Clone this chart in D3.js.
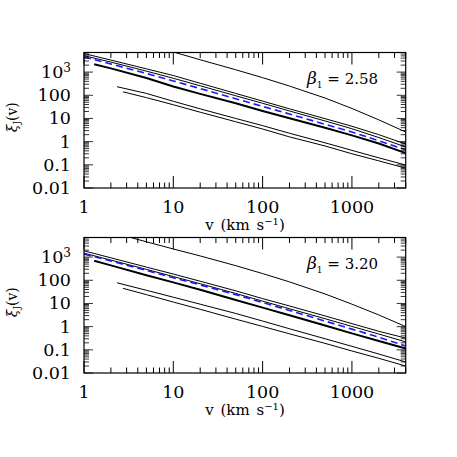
<!DOCTYPE html>
<html><head><meta charset="utf-8">
<script src="https://cdn.jsdelivr.net/npm/d3@7"></script>
<style>body{margin:0;background:#fff}svg{display:block}</style>
</head><body>
<script>
// ---------- data ----------
const xTickValues = [1, 10, 100, 1000];
const xTickLabels = ["1", "10", "100", "1000"];
const yTickValues = [0.01, 0.1, 1, 10, 100, 1000];
const yTickLabels = ["0.01", "0.1", "1", "10", "100", "10^3"];
const betaLabels = ["2.58", "3.20"];

const vGrid = [1, 2, 5, 10, 20, 50, 100, 200, 500, 1000, 2000, 4000];

// panel 1 (beta1 = 2.58)
const p1Curve  = { v: [10, 20, 50, 100, 200, 500, 1000, 2000, 4000], y: [7400, 3400, 1260, 575, 250, 76, 27, 8.7, 2.6] };
const p1Thin1  = { v: vGrid, y: [6300, 3300, 1380, 710, 330, 120, 56, 26, 9.8, 4.6, 2.0, 0.79] };
const p1Thin2  = { v: vGrid, y: [5100, 2700, 1100, 540, 257, 95, 45, 21, 7.8, 3.6, 1.5, 0.59] };
const p1Blue   = { v: vGrid, y: [4470, 2240, 870, 417, 195, 71, 33, 15.5, 5.6, 2.6, 1.1, 0.44] };
const p1Thick  = { v: [1.3, 2, 5, 10, 20, 50, 100, 200, 500, 1000, 2000, 4000], y: [2190, 1450, 560, 240, 115, 45, 21, 10.2, 4.0, 1.86, 0.83, 0.32] };
const p1Low1   = { v: [2.34, 5, 10, 20, 50, 100, 200, 500, 1000, 2000, 4000], y: [234, 120, 55, 26, 10, 4.9, 2.3, 0.89, 0.42, 0.20, 0.098] };
const p1Low2   = { v: [2.73, 5, 10, 20, 50, 100, 200, 500, 1000, 2000, 4000], y: [141, 79, 39, 18.6, 7.2, 3.5, 1.6, 0.65, 0.30, 0.148, 0.072] };

// panel 2 (beta1 = 3.20)
const p2Curve  = { v: [3, 5, 10, 20, 50, 100, 200, 500, 1000, 2000, 4000], y: [7800, 4570, 2240, 1120, 427, 195, 85, 25.7, 9.3, 3.2, 1.0] };
const p2Thin1  = { v: vGrid, y: [1860, 930, 370, 186, 91, 35, 16.2, 7.8, 2.9, 1.35, 0.63, 0.32] };
const p2Thin2  = { v: vGrid, y: [1480, 740, 295, 145, 71, 27, 12.6, 5.9, 2.2, 1.02, 0.48, 0.22] };
const p2Blue   = { v: vGrid, y: [1350, 680, 265, 129, 63, 24, 11, 5.0, 1.74, 0.78, 0.35, 0.145] };
const p2Thick  = { v: [1.3, 2, 5, 10, 20, 50, 100, 200, 500, 1000, 2000, 4000], y: [690, 440, 166, 81, 39, 14.1, 6.6, 3.1, 1.12, 0.51, 0.24, 0.115] };
const p2Low1   = { v: [2.34, 5, 10, 20, 50, 100, 200, 500, 1000, 2000, 4000], y: [78, 37, 18.6, 9.3, 3.7, 1.74, 0.81, 0.30, 0.141, 0.066, 0.030] };
const p2Low2   = { v: [2.73, 5, 10, 20, 50, 100, 200, 500, 1000, 2000, 4000], y: [45, 24, 11.5, 5.6, 2.1, 1.02, 0.49, 0.19, 0.089, 0.043, 0.020] };

const panels = [
  { top: 52.5, bottom: 188, beta: betaLabels[0],
    series: [
      { d: p1Curve, style: "thin" }, { d: p1Thin1, style: "thin" }, { d: p1Thin2, style: "thin" },
      { d: p1Blue, style: "blue" }, { d: p1Thick, style: "thick" },
      { d: p1Low1, style: "thin" }, { d: p1Low2, style: "thin" } ] },
  { top: 237.5, bottom: 373, beta: betaLabels[1],
    series: [
      { d: p2Curve, style: "thin" }, { d: p2Thin1, style: "thin" }, { d: p2Thin2, style: "thin" },
      { d: p2Blue, style: "blue" }, { d: p2Thick, style: "thick" },
      { d: p2Low1, style: "thin" }, { d: p2Low2, style: "thin" } ] }
];

// ---------- drawing ----------
const W = 457, H = 457;
const L = 84, R = 405.7;
const svg = d3.select("body").append("svg").attr("width", W).attr("height", H);
const font = "'DejaVu Serif', serif";

const x = d3.scaleLog().domain([1, 4000]).range([L, R]);

panels.forEach((p, pi) => {
  const y = d3.scaleLog().domain([0.01, 7000]).range([p.bottom, p.top]);
  const g = svg.append("g");
  const clipId = "clip" + pi;
  svg.append("clipPath").attr("id", clipId).append("rect")
    .attr("x", L).attr("y", p.top).attr("width", R - L).attr("height", p.bottom - p.top);

  // series
  const line = d3.line().x(d => x(d[0])).y(d => y(d[1]));
  const lg = g.append("g").attr("clip-path", `url(#${clipId})`);
  p.series.forEach(s => {
    const pts = s.d.v.map((v, i) => [v, s.d.y[i]]);
    const path = lg.append("path").attr("d", line(pts)).attr("fill", "none");
    if (s.style === "thin") path.attr("stroke", "#000").attr("stroke-width", 1);
    else if (s.style === "thick") path.attr("stroke", "#000").attr("stroke-width", 2);
    else path.attr("stroke", "#1a1aff").attr("stroke-width", 1.6).attr("stroke-dasharray", "7,4");
  });

  // frame
  g.append("rect").attr("x", L).attr("y", p.top).attr("width", R - L).attr("height", p.bottom - p.top)
    .attr("fill", "none").attr("stroke", "#000").attr("stroke-width", 1.2);

  // x ticks (top and bottom, inward)
  const isMajor = v => Math.abs(Math.log10(v) - Math.round(Math.log10(v))) < 1e-9;
  x.ticks().forEach(v => {
    const len = isMajor(v) ? 12 : 5.5;
    const xx = x(v);
    g.append("line").attr("x1", xx).attr("x2", xx).attr("y1", p.bottom).attr("y2", p.bottom - len)
      .attr("stroke", "#000").attr("stroke-width", 1);
    g.append("line").attr("x1", xx).attr("x2", xx).attr("y1", p.top).attr("y2", p.top + len)
      .attr("stroke", "#000").attr("stroke-width", 1);
  });
  // y ticks (left and right, inward)
  y.ticks().forEach(v => {
    const len = isMajor(v) ? 9 : 5;
    const yy = y(v);
    g.append("line").attr("x1", L).attr("x2", L + len).attr("y1", yy).attr("y2", yy)
      .attr("stroke", "#000").attr("stroke-width", 0.8);
    g.append("line").attr("x1", R).attr("x2", R - len).attr("y1", yy).attr("y2", yy)
      .attr("stroke", "#000").attr("stroke-width", 0.8);
  });

  // x tick labels
  xTickValues.forEach((v, i) => {
    g.append("text").attr("x", x(v)).attr("y", p.bottom + 25).attr("text-anchor", "middle")
      .attr("font-family", font).attr("font-size", 17.5).text(xTickLabels[i]);
  });
  // y tick labels
  yTickValues.forEach((v, i) => {
    const t = g.append("text").attr("x", 71).attr("y", y(v) + 6).attr("text-anchor", "end")
      .attr("font-family", font).attr("font-size", 17.5);
    const lab = yTickLabels[i];
    if (lab.includes("^")) {
      const [b, e] = lab.split("^");
      t.append("tspan").text(b);
      t.append("tspan").attr("dy", -6).attr("font-size", 12).text(e);
    } else t.text(lab);
  });

  // x title
  const xt = g.append("text").attr("x", 245).attr("y", p.bottom + 42).attr("text-anchor", "middle")
    .attr("font-family", font).attr("font-size", 15).attr("word-spacing", 2);
  xt.append("tspan").text("v (km s");
  xt.append("tspan").attr("dy", -5).attr("font-size", 10).text("−1");
  xt.append("tspan").attr("dy", 5).text(")");

  // y title
  const cy = (p.top + p.bottom) / 2 - 3;
  const yt = g.append("text").attr("transform", `translate(17,${cy}) rotate(-90)`)
    .attr("text-anchor", "middle").attr("font-family", font).attr("font-size", 14);
  yt.append("tspan").attr("font-style", "italic").text("ξ");
  yt.append("tspan").attr("dy", 3).attr("font-size", 9).text("J");
  yt.append("tspan").attr("dy", -3).text("(v)");

  // beta label
  const bt = g.append("text").attr("x", 307).attr("y", p.top + 31)
    .attr("font-family", font).attr("font-size", 15);
  bt.append("tspan").attr("font-style", "italic").attr("font-size", 17).text("β");
  bt.append("tspan").attr("dy", 4).attr("font-size", 9).text("1");
  bt.append("tspan").attr("dy", -4).text("  =  " + p.beta);
});
</script>
</body></html>
